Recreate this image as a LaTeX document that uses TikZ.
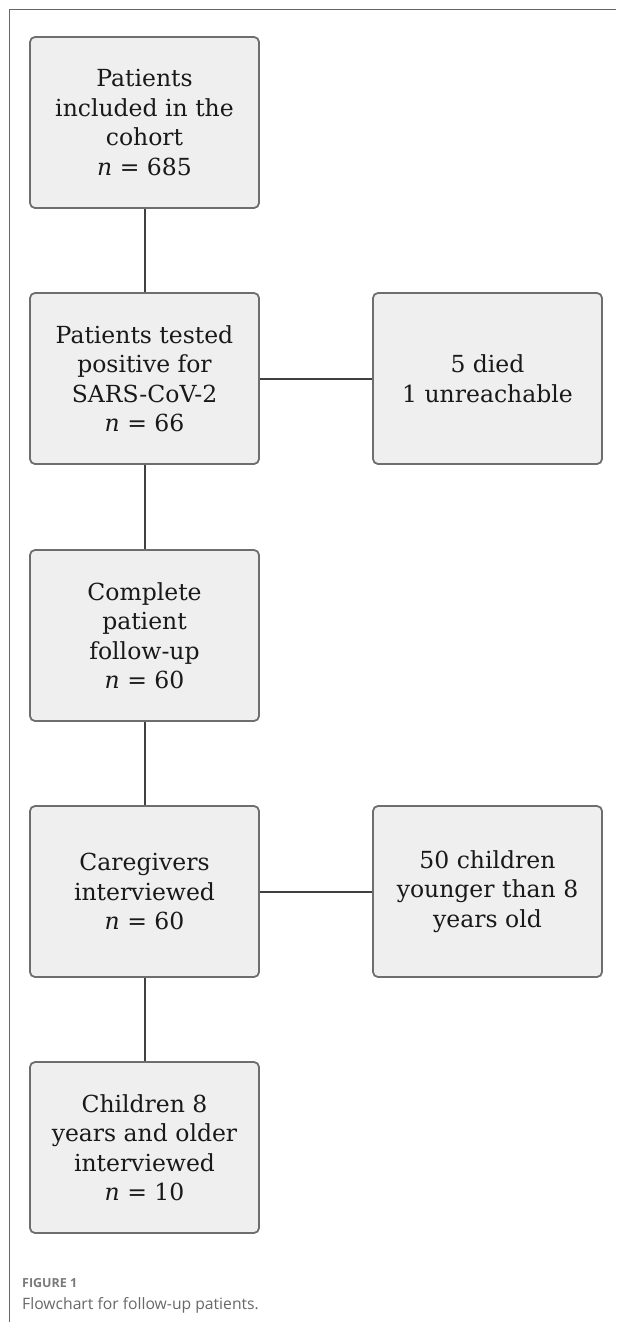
\documentclass[tikz,border=0pt]{standalone}
\usepackage{fontspec}
\setmainfont{DejaVu Serif}
\newfontfamily\capfont{Open Sans}
\begin{document}
\begin{tikzpicture}[x=1pt,y=1pt,
  flowbox/.style={draw=boxline, fill=boxfill, line width=1.8pt, rounded corners=5pt,
    minimum width=229pt, minimum height=171pt, align=center, inner sep=0pt,
    font=\fontsize{23.5}{29.5}\selectfont, text=black!90},
  link/.style={draw=linkcol, line width=2pt}]
\definecolor{boxline}{HTML}{6E6E6E}
\definecolor{boxfill}{HTML}{EFEFEF}
\definecolor{linkcol}{HTML}{404040}
\definecolor{framecol}{HTML}{666666}
\definecolor{capgray}{HTML}{7A7A7A}
\useasboundingbox (0,0) rectangle (616,-1322);
\draw[framecol, line width=1.2pt] (9.5,-1322) -- (9.5,-9.5) -- (616,-9.5);
\node[flowbox] (b1) at (144.5,-122.5) {Patients\\included in the\\cohort\\\textit{n} = 685};
\node[flowbox] (b2) at (144.5,-378.5) {Patients tested\\positive for\\SARS-CoV-2\\\textit{n} = 66};
\node[flowbox] (r1) at (487.5,-378.5) {5 died\\1 unreachable};
\node[flowbox] (b3) at (144.5,-635.5) {Complete\\patient\\follow-up\\\textit{n} = 60};
\node[flowbox] (b4) at (144.5,-891.5) {Caregivers\\interviewed\\\textit{n} = 60};
\node[flowbox] (r2) at (487.5,-891.5) {50 children\\younger than 8\\years old};
\node[flowbox] (b5) at (144.5,-1147.5) {Children 8\\years and older\\interviewed\\\textit{n} = 10};
\draw[link] (b1) -- (b2);
\draw[link] (b2) -- (b3);
\draw[link] (b3) -- (b4);
\draw[link] (b4) -- (b5);
\draw[link] (b2) -- (r1);
\draw[link] (b4) -- (r2);
\node[anchor=base west, inner sep=0pt, text=capgray, font=\capfont\bfseries\fontsize{12.5}{14}\selectfont] (fig) at (22,-1287) {FIGURE 1};
\node[anchor=base west, inner sep=0pt, text=capgray!85!black, font=\capfont\fontsize{15.7}{18}\selectfont] (cap) at (22,-1309) {Flowchart for follow-up patients.};
\end{tikzpicture}
\end{document}
